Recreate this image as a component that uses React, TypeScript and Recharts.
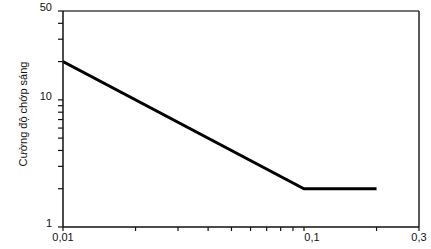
import React from "react";
import { LineChart, Line, XAxis, YAxis, ReferenceLine } from "recharts";

const xValues = [0.01, 0.1, 0.2];
const yValues = [20, 2, 2];
const xTicks = [0.01, 0.02, 0.03, 0.04, 0.05, 0.06, 0.07, 0.08, 0.09, 0.1, 0.2, 0.3];
const xTickLabels: Record<string, string> = { "0.01": "0,01", "0.1": "0,1", "0.3": "0,3" };
const yTicks = [1, 2, 3, 4, 5, 6, 7, 8, 9, 10, 20, 30, 40, 50];
const yTickLabels: Record<string, string> = { "1": "1", "10": "10", "50": "50" };
const yLabel = "Cường độ chớp sáng";
const xMax = 0.3;
const yMax = 50;

const data = xValues.map((x, i) => ({ x, y: yValues[i] }));

const FONT = "'Liberation Sans', Arial, sans-serif";

const XTick = (props: any) => {
  const { x, y, payload } = props;
  const label = xTickLabels[String(payload.value)] || "";
  if (!label) return null;
  const shift = label === "0,1" ? 8 : 0;
  return (
    <text x={x + shift} y={y} dy="0.71em" textAnchor="middle" fontSize={11} fontFamily={FONT} fill="#111">
      {label}
    </text>
  );
};

const YTick = (props: any) => {
  const { x, y, payload } = props;
  const label = yTickLabels[String(payload.value)] || "";
  if (!label) return null;
  return (
    <text x={x} y={y - 4} dy="0.355em" textAnchor="end" fontSize={11} fontFamily={FONT} fill="#111">
      {label}
    </text>
  );
};

export default function App() {
  return (
    <div style={{ position: "absolute", left: 0, top: 0, background: "#fff" }}>
      <LineChart width={431} height={249} data={data} margin={{ top: 11, right: 12, bottom: 0, left: 0 }}>
        <XAxis
          xAxisId="b"
          dataKey="x"
          type="number"
          scale="log"
          domain={[0.01, 0.3]}
          ticks={xTicks}
          allowDataOverflow
          height={22}
          tickSize={4}
          tickMargin={2}
          tick={<XTick />}
          stroke="#111"
          strokeWidth={1.5}
          tickLine={{ stroke: "#111", strokeWidth: 1.2 }}
          interval={0}
        />
        <YAxis
          yAxisId="l"
          type="number"
          scale="log"
          domain={[1, 50]}
          ticks={yTicks}
          allowDataOverflow
          width={63}
          tickSize={5}
          tickMargin={6}
          tick={<YTick />}
          stroke="#111"
          strokeWidth={1.5}
          tickLine={{ stroke: "#111", strokeWidth: 1.2 }}
          interval={0}
          label={{
            value: yLabel,
            angle: -90,
            position: "center",
            dx: -8,
            dy: -5,
            fontSize: 11,
            fontFamily: FONT,
            fill: "#111",
          }}
        />
        <ReferenceLine xAxisId="b" yAxisId="l" y={yMax} stroke="#444" strokeWidth={1.3} />
        <ReferenceLine xAxisId="b" yAxisId="l" x={xMax} stroke="#222" strokeWidth={1.5} />
        <Line
          xAxisId="b"
          yAxisId="l"
          dataKey="y"
          stroke="#000"
          strokeWidth={2.8}
          dot={false}
          isAnimationActive={false}
          strokeLinejoin="miter"
        />
      </LineChart>
    </div>
  );
}
